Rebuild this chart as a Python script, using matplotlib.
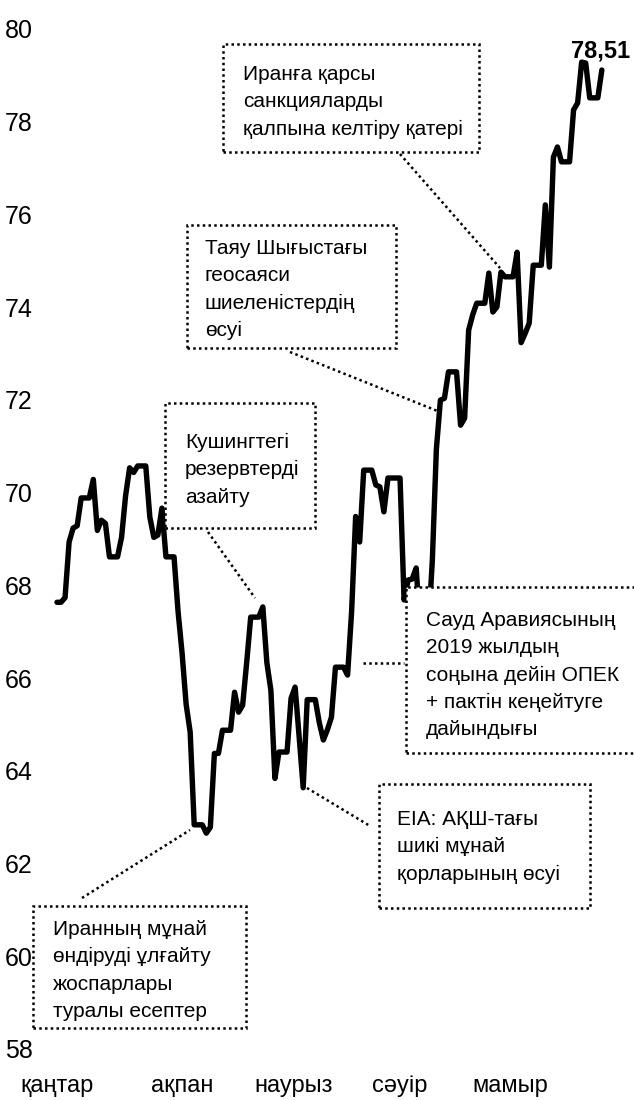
import numpy as np
import matplotlib
matplotlib.use("Agg")
import matplotlib.pyplot as plt
import matplotlib.transforms as mtransforms
from matplotlib.patches import Rectangle
from matplotlib.lines import Line2D

plt.rcParams['font.family'] = ['Liberation Sans', 'DejaVu Sans']

# Brent, calendar days from 6 Jan (weekends carry Friday's close)
brent = [67.7, 67.7, 67.8, 69.0, 69.3, 69.35, 69.95, 69.95, 69.95, 70.35,
         69.25, 69.47, 69.4, 68.68, 68.68, 68.68, 69.1, 70.0, 70.6, 70.5,
         70.64, 70.64, 70.64, 69.54, 69.1, 69.15, 69.73, 68.68, 68.68, 68.68,
         67.5, 66.6, 65.5, 64.9, 62.9, 62.9, 62.9, 62.72, 62.85, 64.44,
         64.44, 64.94, 64.94, 64.94, 65.76, 65.33, 65.48, 66.4, 67.38, 67.38,
         67.38, 67.6, 66.4, 65.8, 63.9, 64.47, 64.47, 64.47, 65.63, 65.87,
         64.8, 63.7, 65.6, 65.6, 65.6, 65.1, 64.73, 64.95, 65.22, 66.3,
         66.3, 66.3, 66.13, 67.5, 69.55, 69.0, 70.55, 70.55, 70.55, 70.23,
         70.19, 69.65, 70.38, 70.38, 70.38, 70.38, 67.75, 68.18, 68.2, 68.44,
         67.1, 67.1, 67.1, 68.6, 71.0, 72.06, 72.1, 72.67, 72.67, 72.67,
         71.52, 71.67, 73.57, 73.9, 74.15, 74.15, 74.15, 74.8, 73.96, 74.07,
         74.82, 74.72, 74.72, 74.72, 75.25, 73.3, 73.5, 73.72, 74.97, 74.97,
         74.97, 76.27, 74.93, 77.3, 77.52, 77.2, 77.2, 77.2, 78.32, 78.47,
         79.35, 79.33, 78.58, 78.58, 78.58, 79.18]
days = np.arange(len(brent))

month_labels = ['қаңтар', 'ақпан', 'наурыз', 'сәуір', 'мамыр']
month_pos = [0, 31, 58.7, 85, 112.2]
y_ticks = [58, 60, 62, 64, 66, 68, 70, 72, 74, 76, 78, 80]
last_label = '78,51'

notes = [
    'Иранға қарсы\nсанкцияларды\nқалпына келтіру қатері',
    'Таяу Шығыстағы\nгеосаяси\nшиеленістердің\nөсуі',
    'Кушингтегі\nрезервтерді\nазайту',
    'Сауд Аравиясының\n2019 жылдың\nсоңына дейін ОПЕК\n+ пактін кеңейтуге\nдайындығы',
    'EIA: АҚШ-тағы\nшикі мұнай\nқорларының өсуі',
    'Иранның мұнай\nөндіруді ұлғайту\nжоспарлары\nтуралы есептер',
]

W, H = 634, 1100
fig = plt.figure(figsize=(W / 100, H / 100), dpi=100)
ax = fig.add_axes([45 / W, 48 / H, 575 / W, 1020 / H])

ax.plot(days, brent, color='black', lw=3.9, solid_joinstyle='round', solid_capstyle='round')
ax.set_xlim(-2.97, 139.5)
ax.set_ylim(58, 80)
ax.set_yticks(y_ticks)
ax.set_xticks(month_pos)
ax.set_xticklabels(month_labels)
ax.tick_params(axis='y', length=0, pad=9, labelsize=18)
ax.tick_params(axis='x', length=0, pad=16.5, labelsize=17)
for s in ax.spines.values():
    s.set_visible(False)

# y labels sit a little above their value
up = mtransforms.ScaledTranslation(0, 3 / 100, fig.dpi_scale_trans)
for lab in ax.get_yticklabels():
    lab.set_transform(lab.get_transform() + up)

ax.text(days[-1] - 0.25, 79.58, last_label, ha='center', va='center',
        fontsize=17, fontweight='bold')


def fx(x):
    return x / W


def fy(y):
    return 1 - y / H


# boxes: x0, y0, x1, y1 (pixels from top left), text left + first baseline, leader
boxes = [
    ((223, 44, 479, 152), (243, 80), ((400, 154), (500, 268))),
    ((187, 225, 396, 348), (205, 254), ((290, 352), (440, 412))),
    ((165, 403, 315, 528), (185, 448), ((208, 532), (255, 598))),
    ((406, 587, 650, 753), (426, 626), ((363, 663), (404, 663))),
    ((379, 784, 590, 908), (397, 825), ((307, 788), (370, 826))),
    ((33, 906, 246, 1028), (53, 935), ((82, 898), (190, 830))),
]
dots = (0, (1, 1.3))

for i in range(len(boxes)):
    (x0, y0, x1, y1), (tx, ty), (p, q) = boxes[i]
    fig.add_artist(Rectangle((fx(x0), fy(y1)), fx(x1 - x0), (y1 - y0) / H,
                             transform=fig.transFigure, facecolor='white',
                             edgecolor='black', lw=1.8, linestyle=dots, zorder=3))
    fig.add_artist(Line2D([fx(p[0]), fx(q[0])], [fy(p[1]), fy(q[1])],
                          transform=fig.transFigure, color='black', lw=1.8,
                          linestyle=dots, zorder=3))
    fig.text(fx(tx), fy(ty - 15), notes[i], ha='left', va='top', fontsize=15,
             linespacing=1.55, zorder=4)

fig.savefig('out.png', dpi=100)
